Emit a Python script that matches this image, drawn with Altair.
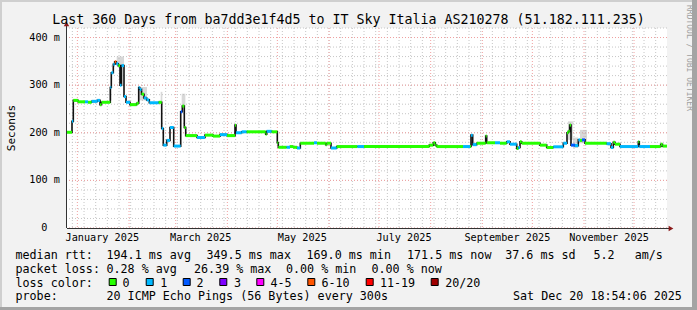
import altair as alt
import pandas as pd

MONO = "DejaVu Sans Mono"

# ---------------- text ----------------
TITLE = "Last 360 Days from ba7dd3e1f4d5 to IT Sky Italia AS210278 (51.182.111.235)"
Y_TITLE = "Seconds"
WATERMARK = "RRDTOOL / TOBI OETIKER"

# ---------------- time frame (days since 1 Jan 2025, UTC) ----------------
END_DAY = 353 + (18 * 3600 + 54 * 60 + 6) / 86400   # Sat Dec 20 18:54:06 2025
START_DAY = END_DAY - 360

# ---------------- median RTT steps ----------------
day = [-6.21, -3.21, -2.43, 0.39, 4.59, 6.39, 8.61, 11.97, 13.59, 14.49,
       19.77, 20.37, 21.57, 22.41, 23.37, 24.57, 25.59, 26.49, 27.99, 29.19,
       31.59, 35.61, 36.81, 37.41, 38.49, 39.99, 41.61, 43.17, 48.81, 50.61,
       51.57, 53.61, 55.59, 57.81, 62.01, 62.97, 64.17, 65.01, 71.79, 76.59,
       81.39, 85.59, 89.79, 94.59, 95.19, 98.61, 101.61, 113.01, 113.61, 116.61,
       119.97, 120.57, 125.61, 127.59, 129.39, 131.79, 133.77, 141.99, 143.79, 149.01,
       149.61, 152.19, 155.61, 168.0, 172.0, 211.17, 213.57, 214.77, 215.61, 231.4,
       235.6, 236.19, 237.21, 239.61, 245.01, 245.61, 250.59, 253.59, 257.61, 259.59,
       263.61, 264.57, 265.59, 266.61, 277.59, 281.61, 285.57, 291.57, 293.79, 294.57,
       295.41, 296.19, 298.59, 300.57, 301.59, 302.79, 304.59, 317.61, 320.19, 321.57,
       322.59, 325.59, 336.57, 337.17, 343.59, 350.01, 351.09]
median_ms = [201, 224, 268, 265, 265, 264, 266, 268, 259, 264,
             295, 326, 344, 349, 345, 341, 300, 341, 276, 264,
             259, 262, 295, 291, 281, 273, 269, 263, 264, 209,
             174, 184, 211, 172, 244, 256, 211, 194, 190, 195,
             193, 196, 194, 216, 200, 202, 202, 197, 203, 202,
             179, 169.5, 169.5, 171, 169.5, 168, 178, 179, 178, 175,
             178, 168, 171, 171, 171, 174, 179, 174, 171, 171,
             171, 195, 175, 178, 193, 179, 179, 178, 181, 176,
             167, 169, 181, 178, 174, 169, 170.5, 178, 200, 203,
             216, 174, 173, 185, 184, 185, 178, 177, 169, 180,
             176, 171, 181, 171, 171, 176, 172]
loss_bucket = [0, 1, 0, 0, 1, 0, 1, 1, 0, 0,
               1, 1, 1, 5, 1, 0, 1, 1, 1, 1,
               0, 0, 1, 1, 0, 1, 1, 1, 0, 1,
               1, 1, 1, 1, 2, 0, 0, 0, 1, 0,
               0, 1, 0, 0, 1, 1, 0, 0, 1, 0,
               0, 0, 1, 0, 0, 1, 0, 1, 0, 0,
               0, 1, 0, 1, 0, 0, 0, 0, 0, 1,
               0, 1, 1, 0, 0, 0, 1, 0, 1, 1,
               0, 1, 0, 0, 0, 0, 1, 1, 0, 0,
               0, 2, 1, 1, 0, 2, 0, 1, 1, 0,
               0, 1, 0, 1, 0, 0, 0]

# ---------------- smoke (ping spread) ----------------
smoke_start = [19.6, 23.6, 36.4, 50.0, 62.6, 294.4, 297.4, 301.6]
smoke_end = [20.6, 28.0, 41.8, 51.0, 64.8, 297.4, 300.4, 305.8]
smoke_low = [268, 340, 268, 262, 255, 185, 168, 178]
smoke_high = [292, 360, 296, 286, 282, 224, 190, 206]

# ---------------- axes ----------------
y_ticks = [100, 200, 300, 400]
y_tick_labels = ["100 m", "200 m", "300 m", "400 m"]
month_labels = ["January 2025", "March 2025", "May 2025", "July 2025",
                "September 2025", "November 2025"]
month_label_day = [15, 74, 135, 196, 258, 319]      # month start + 15 days
month_start_day = [0, 31, 59, 90, 120, 151, 181, 212, 243, 273, 304, 334]
week_start_day = list(range(-3, int(END_DAY) + 1, 7))   # Sundays
y_minor = list(range(0, 421, 20))
y_major = list(range(0, 401, 100))

# ---------------- legend ----------------
rtt_stats = ["194.1 ms avg", "349.5 ms max", "169.0 ms min", "171.5 ms now",
             "37.6 ms sd", "5.2", "am/s"]
loss_stats = ["0.28 % avg", "26.39 % max", "0.00 % min", "0.00 % now"]
loss_names = ["0", "1", "2", "3", "4-5", "6-10", "11-19", "20/20"]
loss_colors = ["#26ff00", "#00b8ff", "#0059ff", "#7e00ff", "#ff00ff",
               "#ff5500", "#ff0000", "#a00000"]
probe_text = "20 ICMP Echo Pings (56 Bytes) every 300s"
stamp_text = "Sat Dec 20 18:54:06 2025"

# ---------------- layout ----------------
L, T = 67, 28          # plot origin in page pixels
W, H = 600, 200
FS = 11.7              # legend font size
AX_FS = 10.2
GRID = "#c6c6c6"
MGRID = "#f0a0a0"

x_scale = alt.Scale(domain=[START_DAY, END_DAY], nice=False, zero=False)
y_scale = alt.Scale(domain=[0, 420], nice=False, zero=True)


def xq(f):
    return alt.X(f, type="quantitative", scale=x_scale, axis=None)


def yq(f):
    return alt.Y(f, type="quantitative", scale=y_scale, axis=None)


one = alt.Chart(pd.DataFrame({"_": [0]}))


def text_at(s, x, y, size=FS, color="black", align="left", baseline="alphabetic", angle=None):
    kw = dict(text=s, align=align, baseline=baseline, font=MONO, fontSize=size, color=color)
    if angle is not None:
        kw["angle"] = angle
    return one.mark_text(**kw).encode(x=alt.value(x - L), y=alt.value(y - T))


def box(x0, y0, x1, y1, fill, stroke=None):
    kw = dict(fill=fill)
    if stroke:
        kw.update(stroke=stroke, strokeWidth=1)
    else:
        kw.update(strokeWidth=0)
    return one.mark_rect(**kw).encode(x=alt.value(x0 - L), x2=alt.value(x1 - L),
                                      y=alt.value(y0 - T), y2=alt.value(y1 - T))


# grids
vminor = alt.Chart(pd.DataFrame({"d": week_start_day})).mark_rule(
    color=GRID, strokeDash=[1, 2], strokeWidth=1).encode(x=xq("d"))
hminor = alt.Chart(pd.DataFrame({"v": y_minor})).mark_rule(
    color=GRID, strokeDash=[1, 2], strokeWidth=1).encode(y=yq("v"))
vmajor = alt.Chart(pd.DataFrame({"d": month_start_day})).mark_rule(
    color=MGRID, strokeDash=[1, 2], strokeWidth=1).encode(x=xq("d"))
hmajor = alt.Chart(pd.DataFrame({"v": y_major})).mark_rule(
    color=MGRID, strokeDash=[1, 2], strokeWidth=1).encode(y=yq("v"))

# smoke
smoke = alt.Chart(pd.DataFrame({"d": smoke_start, "d2": smoke_end,
                                "lo": smoke_low, "hi": smoke_high})).mark_rect(
    color="#b8b8b8", opacity=0.55).encode(x=xq("d"), x2="d2", y=yq("lo"), y2="hi")

# median line (black step) and loss-coloured segments
med_df = pd.DataFrame({"d": day + [END_DAY], "v": median_ms + [median_ms[-1]]})
median_line = alt.Chart(med_df).mark_line(
    interpolate="step-after", color="#111111", strokeWidth=1.6).encode(x=xq("d"), y=yq("v"))

seg_df = pd.DataFrame({"d": day, "d2": day[1:] + [END_DAY], "v": median_ms,
                       "c": [loss_colors[b] for b in loss_bucket]})
segments = alt.Chart(seg_df).mark_rule(strokeWidth=3, strokeCap="butt").encode(
    x=xq("d"), x2="d2", y=yq("v"), color=alt.Color("c:N", scale=None))

# axis lines and arrows
AXC = "#333333"
ARROW = "#8b1a1a"
x_axis = one.mark_rule(color=AXC, strokeWidth=1).encode(
    x=alt.value(0), x2=alt.value(W + 3), y=alt.value(H + 0.5))
y_axis = one.mark_rule(color=AXC, strokeWidth=1).encode(
    x=alt.value(-0.5), y=alt.value(H), y2=alt.value(-3))
x_arrow = one.mark_point(shape="triangle-right", filled=True, color=ARROW, size=30, opacity=1).encode(
    x=alt.value(W + 4), y=alt.value(H + 0.5))
y_arrow = one.mark_point(shape="triangle-up", filled=True, color=ARROW, size=30, opacity=1).encode(
    x=alt.value(-0.5), y=alt.value(-4))

# axis labels
ylab = alt.Chart(pd.DataFrame({"v": y_ticks, "t": y_tick_labels})).mark_text(
    align="right", baseline="middle", font=MONO, fontSize=AX_FS, color="black").encode(
    y=yq("v"), x=alt.value(60 - L), text="t:N")
ylab0 = alt.Chart(pd.DataFrame({"v": [0], "t": ["0"]})).mark_text(
    align="right", baseline="middle", font=MONO, fontSize=AX_FS, color="black").encode(
    y=yq("v"), x=alt.value(47.5 - L), text="t:N")
xlab = alt.Chart(pd.DataFrame({"d": month_label_day, "t": month_labels})).mark_text(
    align="center", baseline="alphabetic", font=MONO, fontSize=AX_FS, color="black").encode(
    x=xq("d"), y=alt.value(241 - T), text="t:N")

layers = [vminor, hminor, vmajor, hmajor, smoke, median_line, segments,
          x_axis, y_axis, x_arrow, y_arrow, ylab, ylab0, xlab]

# title, y title, watermark
layers.append(text_at(TITLE, 348.5, 24, size=13.3, align="center"))
layers.append(text_at(Y_TITLE, 14.5, 128, size=11, align="center", angle=270))
layers.append(text_at(WATERMARK, 688.5, 5, size=8, color="#a0a0a0", align="left",
                      baseline="middle", angle=90))

# legend rows
rx = [106.5, 206.5, 306.5, 407, 505.2, 593.5, 634.7]
layers.append(text_at("median rtt:", 15.5, 259))
for s, x in zip(rtt_stats, rx):
    layers.append(text_at(s, x, 259))

lx = [106.5, 194, 286, 371.5]
layers.append(text_at("packet loss:", 15.5, 272.5))
for s, x in zip(loss_stats, lx):
    layers.append(text_at(s, x, 272.5))

sw_x = [108.7, 145.7, 182.7, 219.3, 256.3, 307.3, 365.7, 430.7]
lab_x = [123.3, 161, 197.3, 234.7, 271.3, 322.3, 380.7, 446]
layers.append(text_at("loss color:", 15.5, 286.5))
for name, col, sx, tx in zip(loss_names, loss_colors, sw_x, lab_x):
    layers.append(box(sx + 0.5, 278.5, sx + 7.5, 285.5, col, stroke="black"))
    layers.append(text_at(name, tx - 0.8, 286.5))

layers.append(text_at("probe:", 15.5, 300))
layers.append(text_at(probe_text, 106.5, 300))
layers.append(text_at(stamp_text, 513, 300))

# 3-D frame
layers.append(box(0, 0, 697, 2, "#cfcfcf"))
layers.append(box(0, 0, 2, 310, "#cfcfcf"))
layers.append(box(692, 0, 697, 310, "#a4a4a4"))
layers.append(box(0, 307, 697, 310, "#a4a4a4"))

chart = alt.layer(*layers).properties(
    width=W, height=H,
    padding={"left": L, "top": T, "right": 697 - L - W, "bottom": 310 - T - H},
    autosize=alt.AutoSizeParams(type="none"),
    background="#f2f2f2",
).configure_view(fill="white", stroke=None)

chart.save("out.html", embed_options={"renderer": "svg", "actions": False})
